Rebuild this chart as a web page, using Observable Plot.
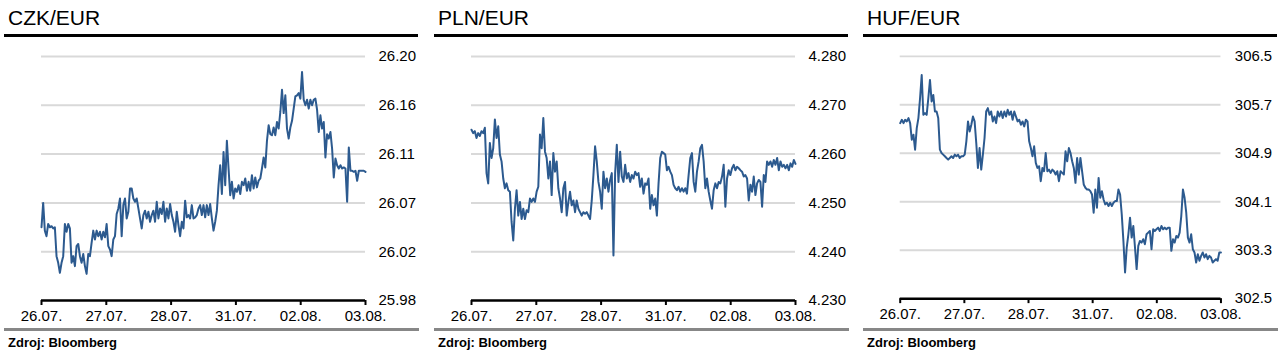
<!DOCTYPE html>
<html><head><meta charset="utf-8">
<script src="https://cdn.jsdelivr.net/npm/d3@7"></script>
<script src="https://cdn.jsdelivr.net/npm/@observablehq/plot@0.6"></script>
<style>
body{margin:0;background:#fff;font-family:Arial,"Liberation Sans",sans-serif;}
#root{position:relative;width:1286px;height:362px;overflow:hidden;background:#fff}
.title{position:absolute;top:7px;font-size:21px;line-height:21px;color:#000;white-space:nowrap}
.topline{position:absolute;top:34px;height:3px;background:#000}
.botline{position:absolute;top:328px;height:3px;background:#878787}
.src{position:absolute;top:336px;font-size:13px;line-height:13px;font-weight:bold;color:#000;white-space:nowrap}
.chart{position:absolute;top:38px}
.chart svg{overflow:visible}
</style></head><body><div id="root"></div>
<script>
const titles = ["CZK/EUR", "PLN/EUR", "HUF/EUR"];
const sourceText = "Zdroj: Bloomberg";
const dateLabels = ["26.07.", "27.07.", "28.07.", "31.07.", "02.08.", "03.08."];

const czkTicks = [25.98, 26.024, 26.068, 26.112, 26.156, 26.20];
const plnTicks = [4.23, 4.24, 4.25, 4.26, 4.27, 4.28];
const hufTicks = [302.5, 303.3, 304.1, 304.9, 305.7, 306.5];

const czkValues = [
26.046,26.068,26.043,26.038,26.049,26.046,26.047,26.045,26.046,26.020,
26.014,26.005,26.014,26.020,26.049,26.042,26.049,26.045,26.014,26.020,
26.011,26.029,26.031,26.020,26.014,26.022,26.011,26.004,26.022,26.020,
26.032,26.043,26.035,26.043,26.038,26.042,26.035,26.042,26.037,26.049,
26.029,26.026,26.020,26.035,26.038,26.058,26.063,26.072,26.038,26.066,
26.072,26.054,26.060,26.081,26.081,26.072,26.069,26.072,26.063,26.054,
26.045,26.057,26.061,26.054,26.060,26.051,26.057,26.061,26.051,26.069,
26.054,26.063,26.058,26.069,26.051,26.063,26.054,26.067,26.057,26.051,
26.042,26.060,26.048,26.038,26.051,26.045,26.070,26.055,26.057,26.054,
26.066,26.054,26.055,26.057,26.063,26.066,26.057,26.066,26.055,26.066,
26.057,26.067,26.054,26.043,26.051,26.061,26.084,26.102,26.076,26.114,
26.084,26.124,26.099,26.075,26.087,26.072,26.081,26.078,26.084,26.076,
26.087,26.084,26.090,26.079,26.087,26.079,26.093,26.081,26.091,26.082,
26.088,26.090,26.099,26.109,26.100,26.124,26.138,26.130,26.129,26.136,
26.129,26.141,26.135,26.150,26.170,26.149,26.165,26.135,26.126,26.136,
26.142,26.153,26.164,26.165,26.167,26.162,26.186,26.161,26.156,26.161,
26.153,26.161,26.156,26.161,26.162,26.152,26.132,26.147,26.135,26.141,
26.109,26.130,26.126,26.132,26.117,26.091,26.108,26.102,26.099,26.102,
26.099,26.100,26.099,26.069,26.118,26.097,26.097,26.096,26.097,26.088,
26.097,26.097,26.097,26.097,26.096
];

const plnValues = [
4.2650,4.2643,4.2647,4.2633,4.2643,4.2637,4.2647,4.2643,4.2654,4.2561,
4.2540,4.2623,4.2592,4.2612,4.2671,4.2633,4.2657,4.2599,4.2585,4.2550,
4.2530,4.2540,4.2526,4.2523,4.2461,4.2423,4.2488,4.2526,4.2474,4.2502,
4.2467,4.2488,4.2467,4.2485,4.2481,4.2509,4.2502,4.2509,4.2502,4.2523,
4.2533,4.2640,4.2612,4.2674,4.2605,4.2592,4.2550,4.2585,4.2516,4.2602,
4.2564,4.2585,4.2530,4.2509,4.2481,4.2530,4.2543,4.2474,4.2502,4.2523,
4.2495,4.2505,4.2481,4.2505,4.2488,4.2481,4.2474,4.2481,4.2478,4.2481,
4.2474,4.2467,4.2505,4.2557,4.2616,4.2585,4.2543,4.2523,4.2488,4.2564,
4.2530,4.2550,4.2523,4.2547,4.2561,4.2392,4.2561,4.2619,4.2543,4.2605,
4.2554,4.2543,4.2578,4.2550,4.2561,4.2543,4.2557,4.2550,4.2564,4.2557,
4.2561,4.2533,4.2550,4.2519,4.2540,4.2537,4.2550,4.2488,4.2516,4.2495,
4.2509,4.2474,4.2540,4.2592,4.2605,4.2602,4.2599,4.2567,4.2574,4.2564,
4.2557,4.2537,4.2530,4.2526,4.2533,4.2523,4.2530,4.2523,4.2530,4.2519,
4.2557,4.2592,4.2602,4.2543,4.2523,4.2564,4.2585,4.2612,4.2619,4.2585,
4.2530,4.2550,4.2523,4.2505,4.2488,4.2526,4.2540,4.2530,4.2543,4.2540,
4.2554,4.2578,4.2492,4.2550,4.2567,4.2557,4.2571,4.2578,4.2567,4.2574,
4.2571,4.2567,4.2564,4.2554,4.2557,4.2550,4.2505,4.2537,4.2523,4.2554,
4.2516,4.2540,4.2547,4.2543,4.2492,4.2557,4.2543,4.2585,4.2578,4.2585,
4.2574,4.2588,4.2578,4.2592,4.2567,4.2585,4.2574,4.2578,4.2571,4.2578,
4.2567,4.2581,4.2574,4.2588,4.2580
];

const hufValues = [
305.398,305.453,305.398,305.453,305.426,305.481,305.398,305.124,305.207,304.960,
305.316,305.481,305.809,306.193,305.535,305.563,305.535,305.809,306.111,305.755,
305.864,305.590,305.590,305.481,304.960,304.905,304.878,304.850,304.823,304.796,
304.823,304.850,304.823,304.878,304.850,304.878,304.823,304.850,304.850,304.878,
305.097,305.426,305.261,305.371,305.508,305.426,305.070,304.659,304.987,304.631,
304.878,305.152,305.590,305.645,305.535,305.590,305.426,305.508,305.398,305.590,
305.508,305.590,305.481,305.590,305.508,305.618,305.535,305.590,305.453,305.590,
305.508,305.426,305.453,305.371,305.426,305.344,305.453,305.426,305.097,304.987,
304.850,305.015,304.741,304.659,304.686,304.440,304.659,304.604,304.905,304.604,
304.631,304.577,304.631,304.604,304.549,304.604,304.440,304.604,304.577,304.549,
304.933,304.768,304.987,304.905,304.768,304.659,304.412,304.823,304.549,304.823,
304.604,304.385,304.330,304.303,304.303,304.275,304.220,303.919,304.303,304.001,
304.494,304.166,304.275,304.138,304.056,304.083,304.029,304.083,304.029,304.083,
304.111,304.111,304.303,304.220,303.892,303.453,302.933,303.344,303.563,303.837,
303.508,303.700,303.344,302.988,303.371,303.453,303.426,303.481,303.399,303.563,
303.590,303.618,303.316,303.645,303.618,303.645,303.672,303.618,303.700,303.645,
303.672,303.645,303.672,303.672,303.289,303.481,303.426,303.536,303.508,303.590,
303.864,304.303,304.166,303.919,303.508,303.426,303.563,303.316,303.262,303.097,
303.234,303.125,303.207,303.262,303.179,303.234,303.152,303.207,303.179,303.097,
303.125,303.152,303.125,303.262,303.262
];

const panels = [
  {title: titles[0], values: czkValues, ticks: czkTicks, fmt: d3.format(".2f"), left: 0, mr: 65, pad: 13},
  {title: titles[1], values: plnValues, ticks: plnTicks, fmt: d3.format(".3f"), left: 430, mr: 65, pad: 13},
  {title: titles[2], values: hufValues, ticks: hufTicks, fmt: d3.format(".1f"), left: 859, mr: 66, pad: 14}
];

const root = document.getElementById("root");
const FONT = "Arial, 'Liberation Sans', sans-serif";

panels.forEach(p => {
  const mk = (cls, css, text) => {
    const d = document.createElement("div");
    d.className = cls;
    Object.assign(d.style, css);
    if (text) d.textContent = text;
    root.appendChild(d);
    return d;
  };
  mk("title", {left: (p.left + 8) + "px"}, p.title);
  mk("topline", {left: (p.left + 4) + "px", width: "414px"});
  mk("botline", {left: (p.left + 4) + "px", width: "415px"});
  mk("src", {left: (p.left + 8) + "px"}, sourceText);

  const n = p.values.length;
  const data = p.values.map((v, i) => ({t: i / (n - 1) * 5, v}));
  const y0 = p.ticks[0], y1 = p.ticks[p.ticks.length - 1];
  const chart = Plot.plot({
    width: 430,
    height: 286,
    marginTop: 18,
    marginBottom: 24,
    marginLeft: 41,
    marginRight: p.mr,
    x: {domain: [0, 5], axis: null},
    y: {domain: [y0, y1], axis: null},
    style: {fontFamily: FONT, fontSize: "15px", color: "#000", background: "transparent"},
    marks: [
      Plot.ruleY(p.ticks.slice(1), {stroke: "#d9d9d9", strokeWidth: 2}),
      Plot.axisY(p.ticks, {anchor: "right", label: null, tickSize: 0, tickPadding: p.pad, tickFormat: p.fmt, fontSize: 15, fill: "#000"}),
      Plot.line(data, {x: "t", y: "v", stroke: "#2c5a8f", strokeWidth: 2}),
      Plot.ruleY([y0], {stroke: "#000", strokeWidth: 2.5}),
      Plot.axisX(d3.range(6), {anchor: "bottom", label: null, tickSize: 5, tickPadding: 5, strokeWidth: 2, stroke: "#000", fill: "#000", fontSize: 15, tickFormat: i => dateLabels[i]})
    ]
  });
  const wrap = document.createElement("div");
  wrap.className = "chart";
  wrap.style.left = p.left + "px";
  wrap.appendChild(chart);
  root.appendChild(wrap);
});
</script>
</body></html>
